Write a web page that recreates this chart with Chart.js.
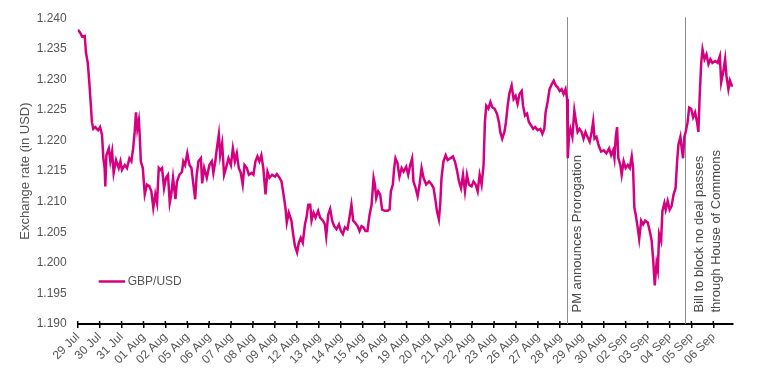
<!DOCTYPE html>
<html>
<head>
<meta charset="utf-8">
<script src="https://cdn.jsdelivr.net/npm/chart.js@4"></script>
<style>
  html, body { margin: 0; padding: 0; background: #fff; }
  canvas { display: block; }
</style>
</head>
<body>
<canvas id="fxChart" width="757" height="378"></canvas>
<script>
// trading days on the x axis, one tick per day
const dayLabels = ['29 Jul', '30 Jul', '31 Jul', '01 Aug', '02 Aug', '05 Aug', '06 Aug', '07 Aug', '08 Aug', '09 Aug',
    '12 Aug', '13 Aug', '14 Aug', '15 Aug', '16 Aug', '19 Aug', '20 Aug', '21 Aug', '22 Aug', '23 Aug',
    '26 Aug', '27 Aug', '28 Aug', '29 Aug', '30 Aug', '02 Sep', '03 Sep', '04 Sep', '05 Sep', '06 Sep'];

const yTicks = [1.190, 1.195, 1.200, 1.205, 1.210, 1.215, 1.220, 1.225, 1.230, 1.235, 1.240];

// [trading day (fraction), GBP/USD]
const gbpUsd = [
    [0.01,1.2381],[0.12,1.2376],[0.20,1.2370],[0.32,1.2371],[0.38,1.2343],[0.46,1.2327],[0.53,1.2295],[0.59,1.2263],
    [0.65,1.2230],[0.71,1.2219],[0.80,1.2222],[0.93,1.2217],[1.02,1.2222],[1.11,1.2209],[1.17,1.2171],[1.23,1.2155],
    [1.26,1.2125],[1.31,1.2176],[1.42,1.2187],[1.49,1.2166],[1.57,1.2182],[1.64,1.2147],[1.75,1.2168],[1.87,1.2155],
    [1.95,1.2166],[2.02,1.2152],[2.15,1.2160],[2.25,1.2155],[2.36,1.2171],[2.45,1.2166],[2.53,1.2187],[2.60,1.2214],
    [2.66,1.2246],[2.72,1.2219],[2.79,1.2233],[2.83,1.2209],[2.88,1.2166],[2.97,1.2155],[3.06,1.2112],[3.16,1.2128],
    [3.27,1.2125],[3.36,1.2117],[3.45,1.2090],[3.54,1.2112],[3.62,1.2098],[3.70,1.2155],[3.77,1.2152],[3.85,1.2155],
    [3.94,1.2122],[4.03,1.2139],[4.12,1.2144],[4.20,1.2098],[4.27,1.2112],[4.35,1.2139],[4.46,1.2104],[4.53,1.2133],
    [4.64,1.2144],[4.76,1.2149],[4.82,1.2166],[4.90,1.2160],[5.00,1.2179],[5.10,1.2160],[5.19,1.2155],[5.28,1.2128],
    [5.36,1.2104],[5.43,1.2144],[5.51,1.2166],[5.62,1.2171],[5.68,1.2130],[5.77,1.2155],[5.89,1.2139],[6.01,1.2160],
    [6.12,1.2166],[6.19,1.2147],[6.28,1.2166],[6.35,1.2187],[6.44,1.2210],[6.50,1.2176],[6.59,1.2195],[6.68,1.2144],
    [6.77,1.2155],[6.88,1.2171],[6.99,1.2160],[7.08,1.2187],[7.17,1.2166],[7.26,1.2179],[7.35,1.2155],[7.44,1.2147],
    [7.53,1.2128],[7.61,1.2160],[7.72,1.2155],[7.81,1.2144],[7.93,1.2147],[8.02,1.2144],[8.11,1.2166],[8.20,1.2174],
    [8.29,1.2166],[8.38,1.2176],[8.47,1.2155],[8.57,1.2112],[8.66,1.2149],[8.75,1.2139],[8.87,1.2144],[9.00,1.2141],
    [9.09,1.2145],[9.21,1.2139],[9.30,1.2133],[9.39,1.2112],[9.48,1.2090],[9.54,1.2066],[9.63,1.2082],[9.75,1.2069],
    [9.83,1.2047],[9.91,1.2028],[10.01,1.2017],[10.09,1.2033],[10.18,1.2041],[10.27,1.2033],[10.37,1.2063],[10.44,1.2074],
    [10.52,1.2095],[10.61,1.2095],[10.67,1.2069],[10.76,1.2082],[10.85,1.2074],[10.97,1.2085],[11.06,1.2074],[11.19,1.2069],
    [11.28,1.2063],[11.34,1.2044],[11.43,1.2079],[11.52,1.2088],[11.61,1.2069],[11.70,1.2060],[11.81,1.2055],[11.92,1.2063],
    [12.01,1.2052],[12.10,1.2047],[12.19,1.2058],[12.31,1.2055],[12.40,1.2074],[12.49,1.2095],[12.57,1.2069],[12.65,1.2066],
    [12.77,1.2060],[12.86,1.2052],[12.95,1.2060],[13.04,1.2058],[13.13,1.2052],[13.22,1.2052],[13.32,1.2079],[13.41,1.2095],
    [13.50,1.2139],[13.56,1.2128],[13.62,1.2106],[13.71,1.2117],[13.80,1.2112],[13.89,1.2087],[14.02,1.2085],[14.14,1.2085],
    [14.23,1.2087],[14.29,1.2117],[14.38,1.2128],[14.44,1.2155],[14.50,1.2171],[14.59,1.2163],[14.68,1.2141],[14.78,1.2155],
    [14.87,1.2149],[14.99,1.2157],[15.08,1.2144],[15.17,1.2160],[15.26,1.2171],[15.32,1.2133],[15.42,1.2122],[15.51,1.2109],
    [15.60,1.2128],[15.69,1.2155],[15.78,1.2139],[15.90,1.2128],[16.03,1.2133],[16.15,1.2128],[16.24,1.2122],[16.33,1.2101],
    [16.39,1.2085],[16.48,1.2071],[16.54,1.2095],[16.60,1.2139],[16.69,1.2166],[16.79,1.2176],[16.88,1.2168],[17.00,1.2171],
    [17.12,1.2174],[17.21,1.2166],[17.30,1.2152],[17.40,1.2133],[17.49,1.2122],[17.58,1.2144],[17.67,1.2117],[17.76,1.2144],
    [17.85,1.2128],[17.97,1.2125],[18.06,1.2133],[18.16,1.2128],[18.25,1.2117],[18.34,1.2144],[18.43,1.2128],[18.52,1.2160],
    [18.58,1.2230],[18.64,1.2257],[18.74,1.2252],[18.83,1.2263],[18.92,1.2254],[19.02,1.2252],[19.13,1.2244],[19.22,1.2230],
    [19.28,1.2214],[19.37,1.2203],[19.47,1.2214],[19.54,1.2230],[19.62,1.2257],[19.69,1.2276],[19.80,1.2290],[19.89,1.2268],
    [19.98,1.2273],[20.07,1.2260],[20.16,1.2276],[20.26,1.2281],[20.32,1.2257],[20.41,1.2241],[20.50,1.2244],[20.59,1.2230],
    [20.68,1.2225],[20.78,1.2219],[20.87,1.2222],[20.99,1.2217],[21.11,1.2219],[21.20,1.2211],[21.29,1.2219],[21.35,1.2246],
    [21.44,1.2263],[21.53,1.2284],[21.63,1.2292],[21.72,1.2298],[21.81,1.2290],[21.90,1.2287],[21.99,1.2281],[22.08,1.2284],
    [22.17,1.2276],[22.26,1.2284],[22.33,1.2268],[22.36,1.2171],[22.42,1.2209],[22.48,1.2219],[22.57,1.2206],[22.66,1.2249],
    [22.74,1.2230],[22.81,1.2214],[22.90,1.2219],[22.99,1.2214],[23.08,1.2203],[23.17,1.2214],[23.26,1.2206],[23.36,1.2198],
    [23.45,1.2214],[23.52,1.2231],[23.58,1.2203],[23.67,1.2206],[23.76,1.2193],[23.88,1.2182],[24.00,1.2184],[24.12,1.2179],
    [24.25,1.2187],[24.34,1.2176],[24.43,1.2184],[24.49,1.2171],[24.55,1.2205],[24.61,1.2222],[24.67,1.2171],[24.76,1.2160],
    [24.82,1.2144],[24.91,1.2166],[25.00,1.2155],[25.10,1.2160],[25.19,1.2155],[25.28,1.2174],[25.34,1.2155],[25.40,1.2090],
    [25.46,1.2079],[25.55,1.2058],[25.62,1.2039],[25.71,1.2069],[25.80,1.2063],[25.89,1.2069],[26.01,1.2066],[26.10,1.2052],
    [26.19,1.2036],[26.26,1.2004],[26.33,1.1963],[26.41,1.1999],[26.47,1.1988],[26.53,1.2047],[26.62,1.2036],[26.68,1.2085],
    [26.77,1.2098],[26.83,1.2087],[26.92,1.2101],[27.01,1.2087],[27.10,1.2093],[27.19,1.2112],[27.28,1.2122],[27.35,1.2166],
    [27.41,1.2193],[27.50,1.2206],[27.56,1.2187],[27.62,1.2171],[27.68,1.2206],[27.74,1.2214],[27.83,1.2230],[27.90,1.2254],
    [27.99,1.2252],[28.08,1.2238],[28.17,1.2246],[28.26,1.2230],[28.32,1.2214],[28.38,1.2273],[28.45,1.2327],[28.51,1.2349],
    [28.60,1.2333],[28.69,1.2341],[28.78,1.2325],[28.87,1.2333],[28.96,1.2327],[29.09,1.2330],[29.20,1.2327],[29.30,1.2338],
    [29.36,1.2295],[29.45,1.2311],[29.54,1.2333],[29.60,1.2306],[29.69,1.2284],[29.76,1.2298],[29.84,1.2290],[29.90,1.2290]
];

// political events marked with a vertical line
const eventDays = [22.31, 27.70];
const eventTexts = [
    ['PM announces Prorogation'],
    ['Bill to block no deal passes', 'through House of Commons']
];

const LINE_COLOR = '#d4007f';
const TEXT_COLOR = '#555';

Chart.defaults.font.family = '"Liberation Sans", Arial, Helvetica, sans-serif';

const overlay = {
    id: 'overlay',
    beforeDatasetsDraw(chart) {
        const { ctx, chartArea, scales: { x } } = chart;
        ctx.save();
        ctx.strokeStyle = '#8c8c8c';
        ctx.lineWidth = 1;
        eventDays.forEach(d => {
            const px = Math.round(x.getPixelForValue(d)) + 0.5;
            ctx.beginPath();
            ctx.moveTo(px, chartArea.top - 1);
            ctx.lineTo(px, chartArea.bottom);
            ctx.stroke();
        });
        ctx.restore();
    },
    afterDraw(chart) {
        const { ctx, chartArea, scales: { x } } = chart;
        ctx.save();

        // tick marks poke above the axis too
        ctx.strokeStyle = '#000';
        ctx.lineWidth = 1.5;
        x.ticks.forEach(t => {
            const px = x.getPixelForValue(t.value);
            ctx.beginPath();
            ctx.moveTo(px, chartArea.bottom - 3);
            ctx.lineTo(px, chartArea.bottom);
            ctx.stroke();
        });

        // event labels, rotated
        const offsets = [14, 18.5];
        ctx.fillStyle = '#4a4a4a';
        ctx.font = '13px "Liberation Sans", Arial, sans-serif';
        ctx.textAlign = 'left';
        ctx.textBaseline = 'alphabetic';
        eventDays.forEach((d, i) => {
            const px = x.getPixelForValue(d);
            eventTexts[i].forEach((txt, j) => {
                ctx.save();
                ctx.translate(px + offsets[i] + j * 17, chartArea.bottom - 11.5);
                ctx.rotate(-Math.PI / 2);
                ctx.fillText(txt, 0, 0);
                ctx.restore();
            });
        });

        // legend inside plot
        const ly = chartArea.bottom - 42.5;
        ctx.strokeStyle = LINE_COLOR;
        ctx.lineWidth = 2.5;
        ctx.beginPath();
        ctx.moveTo(chartArea.left + 21, ly);
        ctx.lineTo(chartArea.left + 47.5, ly);
        ctx.stroke();
        ctx.fillStyle = TEXT_COLOR;
        ctx.font = '12px "Liberation Sans", Arial, sans-serif';
        ctx.textBaseline = 'middle';
        ctx.fillText(chart.data.datasets[0].label, chartArea.left + 50, ly + 0.5);

        ctx.restore();
    }
};

new Chart(document.getElementById('fxChart'), {
    type: 'line',
    data: {
        datasets: [{
            label: 'GBP/USD',
            data: gbpUsd.map(p => ({ x: p[0], y: p[1] })),
            borderColor: LINE_COLOR,
            borderWidth: 2.5,
            pointRadius: 0,
            tension: 0,
            fill: false
        }]
    },
    options: {
        responsive: false,
        animation: false,
        layout: { padding: { top: 15, right: 24, bottom: 0, left: 0 } },
        plugins: {
            legend: { display: false },
            tooltip: { enabled: false }
        },
        scales: {
            x: {
                type: 'linear',
                min: 0,
                max: 29.9,
                afterBuildTicks: s => { s.ticks = dayLabels.map((_, i) => ({ value: i })); },
                afterFit: s => { s.height = 54; },
                ticks: {
                    callback: v => dayLabels[v],
                    autoSkip: false,
                    maxRotation: 45,
                    minRotation: 45,
                    color: TEXT_COLOR,
                    font: { size: 12 },
                    padding: 2
                },
                grid: { drawOnChartArea: false, color: '#000', lineWidth: 1.5, tickLength: 4 },
                border: { color: '#000', width: 2 }
            },
            y: {
                min: 1.19,
                max: 1.24,
                afterBuildTicks: s => { s.ticks = yTicks.map(v => ({ value: v })); },
                afterFit: s => { s.width = 77.7; },
                ticks: {
                    callback: v => v.toFixed(3),
                    color: TEXT_COLOR,
                    font: { size: 12 },
                    padding: 11
                },
                grid: { display: false, drawTicks: false },
                border: { display: false },
                title: {
                    display: true,
                    text: 'Exchange rate (in USD)',
                    color: TEXT_COLOR,
                    font: { size: 13 },
                    padding: { top: 18, bottom: 0 }
                }
            }
        }
    },
    plugins: [overlay]
});
</script>
</body>
</html>
